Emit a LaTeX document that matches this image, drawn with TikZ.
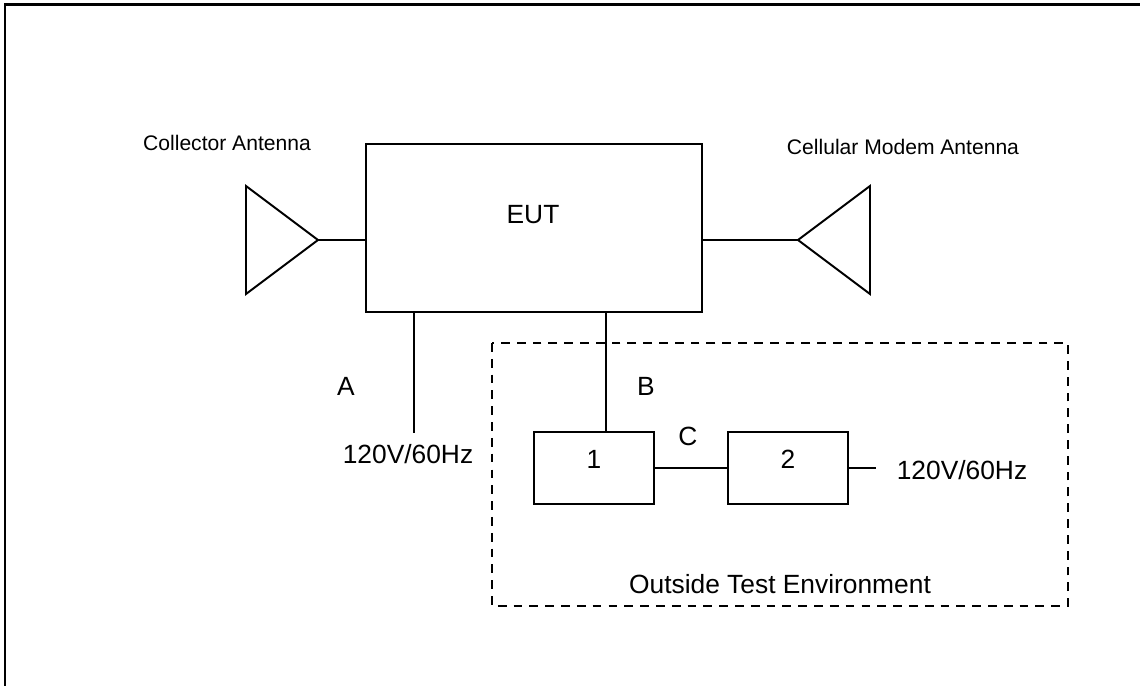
\documentclass[tikz,border=0pt]{standalone}
\usepackage{fontspec}
\setmainfont{Liberation Sans}
\usetikzlibrary{positioning}

\begin{document}
\begin{tikzpicture}[x=0.02cm, y=-0.02cm,
    linea/.style={line width=1.1pt},
    caja/.style={draw, line width=1.1pt, inner sep=0pt},
    txtg/.style={anchor=base, inner sep=0pt, font=\fontsize{15}{18}\selectfont},
    txtp/.style={anchor=base, inner sep=0pt, font=\fontsize{12}{14}\selectfont}]
    \useasboundingbox (0,0) rectangle (1140,686);

    % Marco exterior
    \draw[line width=1.6pt] (5,686) -- (5,4.5) -- (1140,4.5);

    % Equipo bajo prueba
    \node[caja, minimum width=6.72cm, minimum height=3.36cm] (eut) at (534,228) {};
    \node[txtg] (eutlbl) at (533,223) {EUT};

    % Antena colectora (izquierda)
    \coordinate (colpunta) at (318,240);
    \draw[linea, line join=miter] (246,186) -- (colpunta) -- (246,294) -- cycle;
    \draw[linea] (colpunta) -- (eut.west |- colpunta);
    \node[txtp] (collbl) at (227,151) {Collector Antenna};

    % Antena del modem celular (derecha)
    \coordinate (celpunta) at (798,240);
    \draw[linea, line join=miter] (870,186) -- (celpunta) -- (870,294) -- cycle;
    \draw[linea] (eut.east |- celpunta) -- (celpunta);
    \node[txtp] (cellbl) at (903,154) {Cellular Modem Antenna};

    % Alimentación directa (A)
    \coordinate (redA) at (414,433);
    \draw[linea] (eut.south -| redA) -- (redA);
    \node[txtg] (lblA) at (346,395) {A};
    \node[txtg] (redAlbl) at (408,463) {120V/60Hz};

    % Entorno exterior a la prueba
    \draw[line width=1.1pt, dash pattern=on 5pt off 4pt] (492,343) rectangle (1068,606);
    \node[txtg] (extlbl) at (780,593) {Outside Test Environment};

    % Equipos auxiliares 1 y 2
    \node[caja, minimum width=2.4cm, minimum height=1.44cm] (aux1) at (594,468) {};
    \node[caja, minimum width=2.4cm, minimum height=1.44cm] (aux2) at (788,468) {};
    \node[txtg] (aux1lbl) at (594,468) {1};
    \node[txtg] (aux2lbl) at (788,468) {2};

    % Cable B
    \coordinate (cabB) at (606,0);
    \draw[linea] (eut.south -| cabB) -- (aux1.north -| cabB);
    \node[txtg] (lblB) at (646,395) {B};

    % Cable C
    \draw[linea] (aux1.east) -- (aux2.west);
    \node[txtg] (lblC) at (688,445) {C};

    % Alimentación de 2
    \coordinate (redB) at (876,468);
    \draw[linea] (aux2.east) -- (redB);
    \node[txtg] (redBlbl) at (962,479) {120V/60Hz};
\end{tikzpicture}
\end{document}
